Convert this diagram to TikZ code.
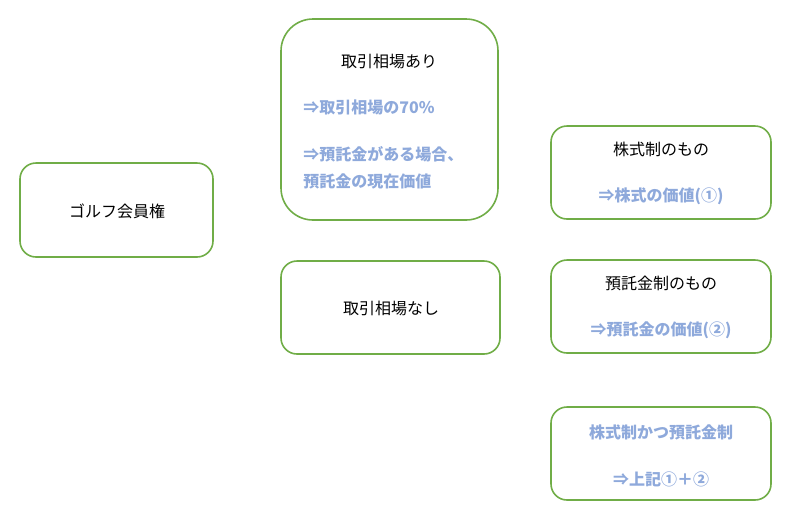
\documentclass[tikz,border=0pt]{standalone}
\usepackage{fontspec}
\setmainfont{Noto Sans CJK JP}
\definecolor{gbord}{HTML}{70AD47}
\definecolor{btext}{HTML}{8EA9DB}
\begin{document}
\begin{tikzpicture}[x=0.75pt,y=-0.75pt,
  box/.style={draw=gbord,line width=1.2pt,rounded corners=12pt},
  bk/.style={font=\fontsize{12}{14}\selectfont,text=black,inner sep=0},
  bl/.style={font=\fontsize{12}{14}\selectfont\bfseries,text=btext,inner sep=0}]
\useasboundingbox (0,0) rectangle (791,526);
\draw[box] (20,163) rectangle (213,257);
\draw[box,rounded corners=24pt] (281,19) rectangle (498,220);
\draw[box] (281,261) rectangle (500,354);
\draw[box] (551,126) rectangle (771,219);
\draw[box] (551,260) rectangle (771,353);
\draw[box] (551,407) rectangle (771,500);
\node[bk] (a) at (117,211) {ゴルフ会員権};
\node[bk] (b) at (389,61) {取引相場あり};
\node[bl,anchor=west] (b1) at (303,107) {⇒取引相場の70\%};
\node[bl,anchor=west] (b2) at (303,154) {⇒預託金がある場合、};
\node[bl,anchor=west] (b3) at (303,181) {預託金の現在価値};
\node[bk] (c) at (391,308) {取引相場なし};
\node[bk] (d) at (661,149) {株式制のもの};
\node[bl] (d1) at (661,196) {⇒株式の価値(①)};
\node[bk] (e) at (661,283) {預託金制のもの};
\node[bl] (e1) at (661,330) {⇒預託金の価値(②)};
\node[bl] (f) at (661,432) {株式制かつ預託金制};
\node[bl] (f1) at (661,479) {⇒上記①＋②};
\end{tikzpicture}
\end{document}
